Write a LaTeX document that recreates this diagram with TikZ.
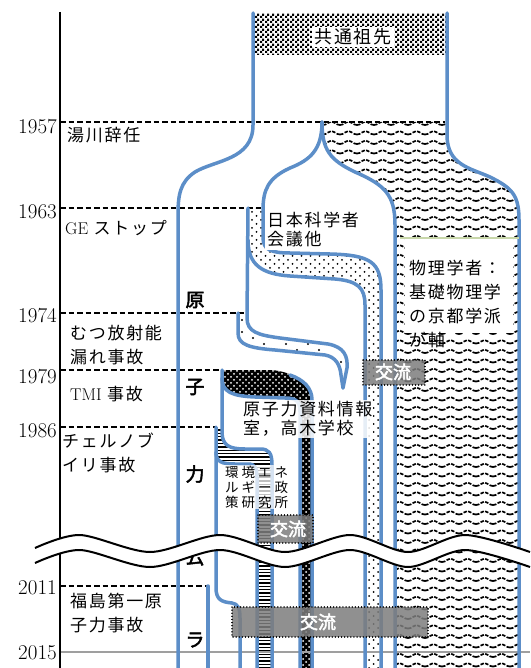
\documentclass[tikz,border=0pt]{standalone}
\usepackage{fontspec}
\newfontfamily\cjk[LetterSpace=10]{Noto Sans CJK JP}
\newfontfamily\cjksp[LetterSpace=22]{Noto Sans CJK JP}
\newfontfamily\cjkbf[FakeBold=2.5]{Noto Sans CJK JP}
\usetikzlibrary{patterns}
\definecolor{tubeblue}{RGB}{92,142,200}
\definecolor{boxgray}{RGB}{125,125,125}
\definecolor{lgreen}{RGB}{200,215,170}
\pgfdeclarepatternformonly{fchecker}{\pgfpointorigin}{\pgfpoint{5pt}{5pt}}{\pgfpoint{5pt}{5pt}}{%
  \pgfpathrectangle{\pgfpointorigin}{\pgfpoint{2.5pt}{2.5pt}}%
  \pgfpathrectangle{\pgfpoint{2.5pt}{2.5pt}}{\pgfpoint{2.5pt}{2.5pt}}%
  \pgfusepath{fill}}
\pgfdeclarepatternformonly{sdots}{\pgfpoint{-1pt}{-1pt}}{\pgfpoint{10pt}{9pt}}{\pgfpoint{9pt}{8pt}}{%
  \pgfpathcircle{\pgfpoint{0pt}{0pt}}{1pt}%
  \pgfpathcircle{\pgfpoint{4.5pt}{4pt}}{1pt}%
  \pgfusepath{fill}}
\pgfdeclarepatternformonly{spdots}{\pgfpoint{-2pt}{-2pt}}{\pgfpoint{24pt}{14pt}}{\pgfpoint{22pt}{12pt}}{%
  \pgfpathcircle{\pgfpoint{0pt}{0pt}}{1.1pt}%
  \pgfpathcircle{\pgfpoint{11pt}{6pt}}{1.1pt}%
  \pgfusepath{fill}}
\pgfdeclarepatternformonly{wdots}{\pgfpoint{-1.5pt}{-1.5pt}}{\pgfpoint{7.5pt}{7.5pt}}{\pgfpoint{6pt}{6pt}}{%
  \pgfpathcircle{\pgfpoint{0pt}{0pt}}{1pt}%
  \pgfpathcircle{\pgfpoint{3pt}{3pt}}{1pt}%
  \pgfusepath{fill}}
\pgfdeclarepatternformonly{hstripes}{\pgfpoint{0pt}{-1pt}}{\pgfpoint{10pt}{2.5pt}}{\pgfpoint{10pt}{3.4pt}}{%
  \pgfsetlinewidth{1.4pt}%
  \pgfpathmoveto{\pgfpoint{0pt}{0pt}}\pgfpathlineto{\pgfpoint{10pt}{0pt}}%
  \pgfusepath{stroke}}
\pgfdeclarepatternformonly{wavy}{\pgfpoint{-1pt}{-1pt}}{\pgfpoint{18pt}{10pt}}{\pgfpoint{17pt}{9.5pt}}{%
  \pgfsetlinewidth{1.7pt}%
  \pgfsetdash{{3.5pt}{1.5pt}}{0pt}%
  \pgfpathmoveto{\pgfpoint{0pt}{1.5pt}}%
  \pgfpathcurveto{\pgfpoint{4.5pt}{1.5pt}}{\pgfpoint{4.5pt}{5pt}}{\pgfpoint{8.5pt}{5pt}}%
  \pgfpathcurveto{\pgfpoint{12.5pt}{5pt}}{\pgfpoint{12.5pt}{1.5pt}}{\pgfpoint{17pt}{1.5pt}}%
  \pgfusepath{stroke}}
\begin{document}
\begin{tikzpicture}[x=1pt,y=-1pt,
  tube/.style={draw=tubeblue, line width=3.5pt, line cap=round, line join=round},
  evline/.style={line width=1.6pt, dash pattern=on 5.5pt off 3pt},
  yearlab/.style={anchor=east, inner sep=0pt, font=\fontsize{21}{21}\selectfont},
  evlab/.style={anchor=west, inner sep=0pt, align=left, font=\cjk\fontsize{17}{24}\selectfont},
  inlab/.style={anchor=west, inner sep=1pt, align=left, font=\cjk\fontsize{17}{19}\selectfont},
  kbox/.style={fill=boxgray, fill opacity=0.85, draw=black, draw opacity=1, line width=1.3pt, dash pattern=on 0.1pt off 3pt, line cap=round},
  ktext/.style={text=white, font=\cjkbf\fontsize{18}{18}\selectfont, inner sep=0pt},
  vlab/.style={font=\cjkbf\fontsize{19}{19}\selectfont, inner sep=0pt}]
\useasboundingbox (0,0) rectangle (530,668);
\fill[white] (0,0) rectangle (530,668);

% ---------- fills ----------
\fill[pattern=fchecker] (253,14) rectangle (447,55);
\fill[pattern=wavy] (322,122) -- (447,122) -- (447,135) .. controls (447,165) and (470,168) .. (490,177) .. controls (512,188) and (519,195) .. (519,220) -- (519,668) -- (395,668) -- (395,225) .. controls (395,195) and (385,185) .. (355,172) .. controls (330,160) and (322,150) .. (322,122) -- cycle;
\fill[pattern=sdots] (248,208) -- (263,208) -- (263,238) .. controls (263,250) and (272,253) .. (290,253) -- (330,254) .. controls (370,255) and (381,262) .. (381,290) -- (381,668) -- (365,668) -- (365,305) .. controls (365,288) and (358,281) .. (335,279) -- (290,276) .. controls (262,274) and (248,265) .. (248,240) -- cycle;
\fill[pattern=spdots] (238,313) -- (247,313) -- (247,318) .. controls (247,332) and (258,335) .. (280,338) -- (328,344) .. controls (344,347) and (348,356) .. (347,368) -- (343,388) -- (341,375) .. controls (340,365) and (336,357) .. (325,355) -- (275,350) .. controls (250,348) and (238,345) .. (238,333) -- cycle;
\fill[black, postaction={pattern=wdots, pattern color=white}] (223,370) -- (272,370) .. controls (292,372) and (312,382) .. (312,400) -- (312,668) -- (300,668) -- (300,412) .. controls (300,402) and (297,398) .. (285,398) -- (255,397) .. controls (232,396) and (223,392) .. (223,378) -- cycle;
\fill[pattern=hstripes] (216,428) -- (222,428) -- (222,432) .. controls (222,446) and (230,449) .. (245,449) -- (260,449) .. controls (269,449) and (272,453) .. (272,465) -- (272,668) -- (257,668) -- (257,478) .. controls (257,468) and (255,464) .. (248,464) -- (235,464) .. controls (222,464) and (216,462) .. (216,452) -- cycle;

% 2015 line
\draw[gray!75, line width=1.5pt] (60,652) -- (530,652);

% ---------- event dashed lines ----------
\draw[evline] (60,122) -- (445,122);
\draw[evline] (60,208) -- (263,208);
\draw[evline] (60,313) -- (247,313);
\draw[evline] (60,370) -- (222,370);
\draw[evline] (60,427) -- (216,427);
\draw[evline] (60,586) -- (208,586);

% ---------- tubes ----------
\draw[tube] (253,13) -- (253,125) .. controls (253,160) and (215,160) .. (195,172) .. controls (180,182) and (178,195) .. (178,215) -- (178,668);
\draw[tube] (447,13) -- (447,135) .. controls (447,165) and (470,168) .. (490,177) .. controls (512,188) and (519,195) .. (519,220) -- (519,668);
\draw[tube] (322,122) .. controls (322,150) and (330,160) .. (355,172) .. controls (385,185) and (395,195) .. (395,225) -- (395,668);
\draw[tube] (322,122) .. controls (322,150) and (310,160) .. (290,168) .. controls (268,178) and (263,190) .. (263,210) -- (263,238) .. controls (263,250) and (272,253) .. (290,253) -- (330,254) .. controls (370,255) and (381,262) .. (381,290) -- (381,668);
\draw[tube] (248,240) .. controls (248,265) and (262,274) .. (290,276) -- (335,279) .. controls (358,281) and (365,288) .. (365,305) -- (365,668);
\draw[tube] (248,208) -- (247,318) .. controls (247,332) and (258,335) .. (280,338) -- (328,344) .. controls (344,347) and (348,356) .. (347,368) -- (343,388);
\draw[tube] (238,313) -- (238,333) .. controls (238,345) and (250,348) .. (275,350) -- (325,355) .. controls (336,357) and (340,365) .. (341,375) -- (343,388);
\draw[tube] (222,370) -- (222,378) .. controls (222,392) and (232,396) .. (255,397) -- (285,398) .. controls (297,398) and (300,402) .. (300,412) -- (300,668);
\draw[tube] (290,375) .. controls (304,380) and (312,388) .. (312,400) -- (312,668);
\draw[tube] (222,378) -- (222,432) .. controls (222,446) and (230,449) .. (245,449) -- (260,449) .. controls (269,449) and (272,453) .. (272,465) -- (272,668);
\draw[tube] (216,427) -- (216,452) .. controls (216,462) and (222,464) .. (235,464) -- (248,464) .. controls (255,464) and (257,468) .. (257,478) -- (257,668);
\draw[tube] (216,452) -- (216,588) .. controls (216,600) and (222,602) .. (232,603) .. controls (238,604) and (240,608) .. (240,618) -- (240,668);
\draw[tube] (208,586) -- (208,668);

% ---------- boxes with text ----------
\node[fill=white, inner sep=2pt, font=\cjk\fontsize{18}{18}\selectfont] (anc) at (353,37) {共通祖先};
\fill[white] (265,210) rectangle (362,250);
\node[inlab] (jsa) at (266,230) {日本科学者\\会議他};
\fill[white] (405,238) rectangle (513,333);
\draw[lgreen, line width=1.2pt] (400,238) -- (519,238);
\node[evlab] (phys) at (409,304) {物理学者：\\基礎物理学\\の京都学派\\が軸};
\node[inlab, fill=white, fill opacity=0.85, text opacity=1] (cnic) at (242,419) {原子力資料情報\\室，高木学校};
\node[anchor=west, inner sep=1pt, align=left, fill=white, fill opacity=0.75, text opacity=1, font=\cjksp\fontsize{13.5}{15}\selectfont] (isep) at (224,487) {環境エネ\\ルギー政\\策研究所};

% ---------- axis and labels ----------
\draw[line width=2pt] (60,12) -- (60,668);
\node[yearlab] (t1957) at (57,127) {1957};
\node[yearlab] (t1963) at (57,212) {1963};
\node[yearlab] (t1974) at (57,316) {1974};
\node[yearlab] (t1979) at (57,377) {1979};
\node[yearlab] (t1986) at (57,431) {1986};
\node[yearlab] (t2011) at (57,588) {2011};
\node[yearlab] (t2015) at (57,653) {2015};
\node[evlab] (e1) at (67,135) {湯川辞任};
\node[evlab] (e2) at (65,228) {{\rmfamily GE} ストップ};
\node[evlab] (e3) at (70,345) {むつ放射能\\漏れ事故};
\node[evlab] (e4) at (70,394) {{\rmfamily TMI} 事故};
\node[evlab] (e5) at (62,453) {チェルノブ\\イリ事故};
\node[evlab] (e6) at (70,613) {福島第一原\\子力事故};
\node[vlab] (v1) at (195,300) {原};
\node[vlab] (v2) at (195,387) {子};
\node[vlab] (v3) at (195,474) {力};
\node[vlab] (v4) at (195,558) {ム};
\node[vlab] (v5) at (195,640) {ラ};

% ---------- wave break ----------
\fill[white] plot[smooth] coordinates {(35,548) (80,535) (150,552) (220,535) (285,552) (350,535) (408,552) (465,535) (530,552)} -- plot[smooth] coordinates {(530,567) (465,550) (408,567) (350,550) (285,567) (220,550) (150,567) (80,550) (35,563)} -- cycle;
\draw[line width=2pt] plot[smooth] coordinates {(35,548) (80,535) (150,552) (220,535) (285,552) (350,535) (408,552) (465,535) (530,552)};
\draw[line width=2pt] plot[smooth] coordinates {(35,563) (80,550) (150,567) (220,550) (285,567) (350,550) (408,567) (465,550) (530,567)};

% ---------- exchange boxes ----------
\path[kbox] (363,360) rectangle (425,385);
\node[ktext] (k1) at (393,372) {交流};
\path[kbox] (258,515) rectangle (313,543);
\node[ktext] (k2) at (288,529) {交流};
\path[kbox] (232,607) rectangle (428,637);
\node[ktext] (k3) at (318,622) {交流};
\end{tikzpicture}
\end{document}
